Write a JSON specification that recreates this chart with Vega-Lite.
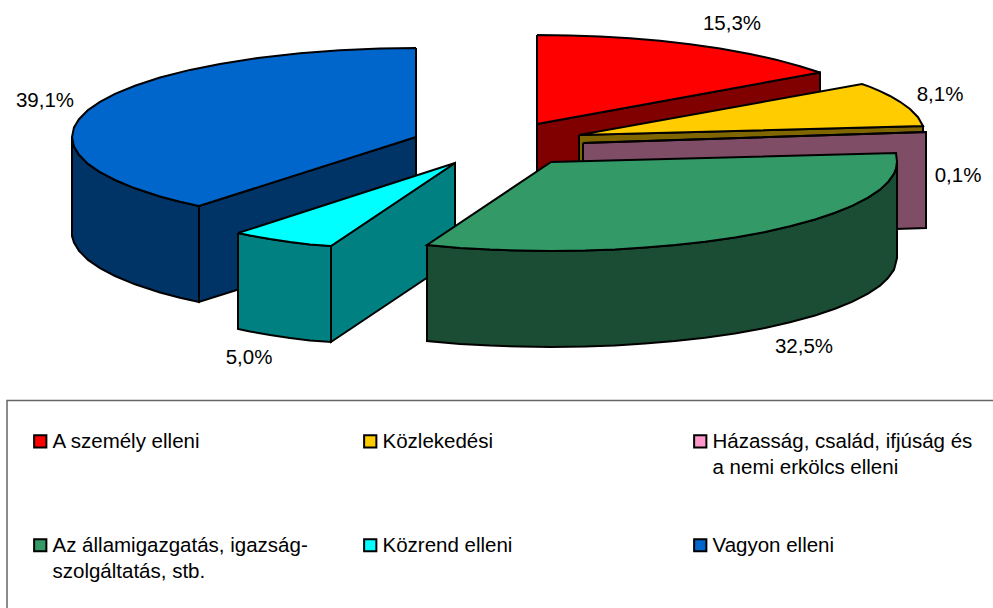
{"$schema":"https://vega.github.io/schema/vega-lite/v6.json","autosize":{"type":"none"},"width":993,"height":608,"padding":0,"background":"white","config":{"view":{"stroke":null}},
"datasets":{
"pieces":[
{"p":"red_side","f":"A személy elleni, oldal"},{"p":"red_top","f":"A személy elleni"},
{"p":"blue_cut","f":"Vagyon elleni, oldal"},{"p":"blue_outer","f":"Vagyon elleni, oldal"},{"p":"blue_top","f":"Vagyon elleni"},
{"p":"yellow_side","f":"Közlekedési, oldal"},{"p":"yellow_top","f":"Közlekedési"},
{"p":"pink_side","f":"Házasság, oldal"},{"p":"pink_top","f":"Házasság, család, ifjúság és a nemi erkölcs elleni"},
{"p":"cyan_right","f":"Közrend elleni, oldal"},{"p":"cyan_left","f":"Közrend elleni, oldal"},{"p":"cyan_top","f":"Közrend elleni"},
{"p":"green_side","f":"Az államigazgatás, oldal"},{"p":"green_top","f":"Az államigazgatás, igazságszolgáltatás, stb."}
],
"outline":[
{"p":"red_side","i":0,"x":537,"y":124},{"p":"red_side","i":1,"x":820,"y":72.5},{"p":"red_side","i":2,"x":820,"y":168},{"p":"red_side","i":3,"x":537,"y":220},{"p":"red_side","i":4,"x":537,"y":124},
{"p":"red_top","i":0,"x":537,"y":35},{"p":"red_top","i":1,"x":570,"y":35.4},{"p":"red_top","i":2,"x":600,"y":36.5},{"p":"red_top","i":3,"x":630,"y":38.3},{"p":"red_top","i":4,"x":660,"y":40.8},{"p":"red_top","i":5,"x":690,"y":44.2},{"p":"red_top","i":6,"x":720,"y":48.4},{"p":"red_top","i":7,"x":750,"y":53.9},{"p":"red_top","i":8,"x":775,"y":59.4},{"p":"red_top","i":9,"x":800,"y":66.2},{"p":"red_top","i":10,"x":820,"y":72.5},{"p":"red_top","i":11,"x":537,"y":124},{"p":"red_top","i":12,"x":537,"y":35},
{"p":"blue_cut","i":0,"x":199,"y":206},{"p":"blue_cut","i":1,"x":416,"y":137},{"p":"blue_cut","i":2,"x":416,"y":233},{"p":"blue_cut","i":3,"x":199,"y":302},{"p":"blue_cut","i":4,"x":199,"y":206},
{"p":"blue_outer","i":0,"x":72,"y":137},{"p":"blue_outer","i":1,"x":74,"y":146.6},{"p":"blue_outer","i":2,"x":79,"y":154.8},{"p":"blue_outer","i":3,"x":88,"y":163.9},{"p":"blue_outer","i":4,"x":100,"y":172.1},{"p":"blue_outer","i":5,"x":115,"y":180},{"p":"blue_outer","i":6,"x":135,"y":188.3},{"p":"blue_outer","i":7,"x":160,"y":196.5},{"p":"blue_outer","i":8,"x":180,"y":201.8},{"p":"blue_outer","i":9,"x":199,"y":206},{"p":"blue_outer","i":10,"x":199,"y":302},{"p":"blue_outer","i":11,"x":180,"y":297.8},{"p":"blue_outer","i":12,"x":160,"y":292.5},{"p":"blue_outer","i":13,"x":135,"y":284.3},{"p":"blue_outer","i":14,"x":115,"y":276},{"p":"blue_outer","i":15,"x":100,"y":268.1},{"p":"blue_outer","i":16,"x":88,"y":259.9},{"p":"blue_outer","i":17,"x":79,"y":250.8},{"p":"blue_outer","i":18,"x":74,"y":242.6},{"p":"blue_outer","i":19,"x":72,"y":236},{"p":"blue_outer","i":20,"x":72,"y":137},
{"p":"blue_top","i":0,"x":416,"y":48},{"p":"blue_top","i":1,"x":380,"y":48.5},{"p":"blue_top","i":2,"x":340,"y":50.2},{"p":"blue_top","i":3,"x":300,"y":53.2},{"p":"blue_top","i":4,"x":260,"y":57.7},{"p":"blue_top","i":5,"x":220,"y":63.9},{"p":"blue_top","i":6,"x":190,"y":69.9},{"p":"blue_top","i":7,"x":160,"y":77.5},{"p":"blue_top","i":8,"x":135,"y":85.7},{"p":"blue_top","i":9,"x":115,"y":93.9},{"p":"blue_top","i":10,"x":100,"y":101.9},{"p":"blue_top","i":11,"x":88,"y":110.1},{"p":"blue_top","i":12,"x":79,"y":119.2},{"p":"blue_top","i":13,"x":74,"y":127.4},{"p":"blue_top","i":14,"x":72,"y":137},{"p":"blue_top","i":15,"x":74,"y":146.6},{"p":"blue_top","i":16,"x":79,"y":154.8},{"p":"blue_top","i":17,"x":88,"y":163.9},{"p":"blue_top","i":18,"x":100,"y":172.1},{"p":"blue_top","i":19,"x":115,"y":180},{"p":"blue_top","i":20,"x":135,"y":188.3},{"p":"blue_top","i":21,"x":160,"y":196.5},{"p":"blue_top","i":22,"x":180,"y":201.8},{"p":"blue_top","i":23,"x":199,"y":206},{"p":"blue_top","i":24,"x":416,"y":137},{"p":"blue_top","i":25,"x":416,"y":48},
{"p":"yellow_side","i":0,"x":579,"y":135},{"p":"yellow_side","i":1,"x":923,"y":126},{"p":"yellow_side","i":2,"x":923,"y":222},{"p":"yellow_side","i":3,"x":579,"y":231},{"p":"yellow_side","i":4,"x":579,"y":135},
{"p":"yellow_top","i":0,"x":579,"y":135},{"p":"yellow_top","i":1,"x":862,"y":84},{"p":"yellow_top","i":2,"x":870,"y":86.9},{"p":"yellow_top","i":3,"x":880,"y":91.1},{"p":"yellow_top","i":4,"x":890,"y":96},{"p":"yellow_top","i":5,"x":900,"y":101.8},{"p":"yellow_top","i":6,"x":910,"y":109},{"p":"yellow_top","i":7,"x":918,"y":117.2},{"p":"yellow_top","i":8,"x":923,"y":126},{"p":"yellow_top","i":9,"x":579,"y":135},
{"p":"pink_side","i":0,"x":583,"y":143},{"p":"pink_side","i":1,"x":926,"y":132},{"p":"pink_side","i":2,"x":926,"y":228},{"p":"pink_side","i":3,"x":583,"y":239},{"p":"pink_side","i":4,"x":583,"y":143},
{"p":"pink_top","i":0,"x":583,"y":143},{"p":"pink_top","i":1,"x":926,"y":132},{"p":"pink_top","i":2,"x":583,"y":143},
{"p":"cyan_right","i":0,"x":331,"y":246},{"p":"cyan_right","i":1,"x":455,"y":163},{"p":"cyan_right","i":2,"x":455,"y":259},{"p":"cyan_right","i":3,"x":331,"y":342},{"p":"cyan_right","i":4,"x":331,"y":246},
{"p":"cyan_left","i":0,"x":238,"y":233},{"p":"cyan_left","i":1,"x":250,"y":235.5},{"p":"cyan_left","i":2,"x":270,"y":239},{"p":"cyan_left","i":3,"x":290,"y":242},{"p":"cyan_left","i":4,"x":310,"y":244.5},{"p":"cyan_left","i":5,"x":331,"y":246},{"p":"cyan_left","i":6,"x":331,"y":342},{"p":"cyan_left","i":7,"x":310,"y":340.5},{"p":"cyan_left","i":8,"x":290,"y":338},{"p":"cyan_left","i":9,"x":270,"y":335},{"p":"cyan_left","i":10,"x":250,"y":331.5},{"p":"cyan_left","i":11,"x":238,"y":329},{"p":"cyan_left","i":12,"x":238,"y":233},
{"p":"cyan_top","i":0,"x":238,"y":233},{"p":"cyan_top","i":1,"x":455,"y":163},{"p":"cyan_top","i":2,"x":331,"y":246},{"p":"cyan_top","i":3,"x":310,"y":244.5},{"p":"cyan_top","i":4,"x":290,"y":242},{"p":"cyan_top","i":5,"x":270,"y":239},{"p":"cyan_top","i":6,"x":250,"y":235.5},{"p":"cyan_top","i":7,"x":238,"y":233},
{"p":"green_side","i":0,"x":897,"y":162},{"p":"green_side","i":1,"x":896,"y":168.7},{"p":"green_side","i":2,"x":894,"y":173.7},{"p":"green_side","i":3,"x":888,"y":182},{"p":"green_side","i":4,"x":880,"y":189.6},{"p":"green_side","i":5,"x":868,"y":197.6},{"p":"green_side","i":6,"x":852,"y":205.9},{"p":"green_side","i":7,"x":835,"y":212.8},{"p":"green_side","i":8,"x":815,"y":219.5},{"p":"green_side","i":9,"x":790,"y":226.3},{"p":"green_side","i":10,"x":765,"y":232},{"p":"green_side","i":11,"x":735,"y":237.4},{"p":"green_side","i":12,"x":705,"y":241.7},{"p":"green_side","i":13,"x":675,"y":245.1},{"p":"green_side","i":14,"x":645,"y":247.6},{"p":"green_side","i":15,"x":615,"y":249.5},{"p":"green_side","i":16,"x":585,"y":250.6},{"p":"green_side","i":17,"x":551,"y":251},{"p":"green_side","i":18,"x":520,"y":250.6},{"p":"green_side","i":19,"x":490,"y":249.6},{"p":"green_side","i":20,"x":460,"y":247.9},{"p":"green_side","i":21,"x":427,"y":245},{"p":"green_side","i":22,"x":427,"y":341},{"p":"green_side","i":23,"x":460,"y":343.9},{"p":"green_side","i":24,"x":490,"y":345.6},{"p":"green_side","i":25,"x":520,"y":346.6},{"p":"green_side","i":26,"x":551,"y":347},{"p":"green_side","i":27,"x":585,"y":346.6},{"p":"green_side","i":28,"x":615,"y":345.5},{"p":"green_side","i":29,"x":645,"y":343.6},{"p":"green_side","i":30,"x":675,"y":341.1},{"p":"green_side","i":31,"x":705,"y":337.7},{"p":"green_side","i":32,"x":735,"y":333.4},{"p":"green_side","i":33,"x":765,"y":328},{"p":"green_side","i":34,"x":790,"y":322.3},{"p":"green_side","i":35,"x":815,"y":315.5},{"p":"green_side","i":36,"x":835,"y":308.8},{"p":"green_side","i":37,"x":852,"y":301.9},{"p":"green_side","i":38,"x":868,"y":293.6},{"p":"green_side","i":39,"x":880,"y":285.6},{"p":"green_side","i":40,"x":888,"y":278},{"p":"green_side","i":41,"x":894,"y":269.7},{"p":"green_side","i":42,"x":897,"y":258},{"p":"green_side","i":43,"x":897,"y":162},
{"p":"green_top","i":0,"x":551,"y":162},{"p":"green_top","i":1,"x":896,"y":153},{"p":"green_top","i":2,"x":897,"y":162},{"p":"green_top","i":3,"x":896,"y":168.7},{"p":"green_top","i":4,"x":894,"y":173.7},{"p":"green_top","i":5,"x":888,"y":182},{"p":"green_top","i":6,"x":880,"y":189.6},{"p":"green_top","i":7,"x":868,"y":197.6},{"p":"green_top","i":8,"x":852,"y":205.9},{"p":"green_top","i":9,"x":835,"y":212.8},{"p":"green_top","i":10,"x":815,"y":219.5},{"p":"green_top","i":11,"x":790,"y":226.3},{"p":"green_top","i":12,"x":765,"y":232},{"p":"green_top","i":13,"x":735,"y":237.4},{"p":"green_top","i":14,"x":705,"y":241.7},{"p":"green_top","i":15,"x":675,"y":245.1},{"p":"green_top","i":16,"x":645,"y":247.6},{"p":"green_top","i":17,"x":615,"y":249.5},{"p":"green_top","i":18,"x":585,"y":250.6},{"p":"green_top","i":19,"x":551,"y":251},{"p":"green_top","i":20,"x":520,"y":250.6},{"p":"green_top","i":21,"x":490,"y":249.6},{"p":"green_top","i":22,"x":460,"y":247.9},{"p":"green_top","i":23,"x":427,"y":245},{"p":"green_top","i":24,"x":551,"y":162}
]},
"layer":[
{"data":{"name":"outline"},"transform":[{"lookup":"p","from":{"data":{"name":"pieces"},"key":"p","fields":["f"]}}],
"mark":{"type":"line","stroke":"#000","strokeWidth":2,"strokeJoin":"miter"},
"encoding":{
"x":{"field":"x","type":"quantitative","scale":{"domain":[0,993],"nice":false,"zero":false},"axis":null},
"y":{"field":"y","type":"quantitative","scale":{"domain":[608,0],"nice":false,"zero":false},"axis":null},
"order":{"field":"i","type":"quantitative"},
"detail":{"field":"p"},
"fill":{"field":"f","type":"nominal","scale":{
"domain":["A személy elleni","Közlekedési","Házasság, család, ifjúság és a nemi erkölcs elleni","Az államigazgatás, igazságszolgáltatás, stb.","Közrend elleni","Vagyon elleni","A személy elleni, oldal","Közlekedési, oldal","Házasság, oldal","Az államigazgatás, oldal","Közrend elleni, oldal","Vagyon elleni, oldal"],
"range":["#FF0000","#FFCC00","#FF99CC","#339966","#00FFFF","#0066CC","#800000","#806600","#804D66","#1A4D33","#008080","#003366"]},
"legend":{"title":null,"orient":"none","legendX":30,"legendY":431,"columns":3,"direction":"horizontal","gridAlign":"all","columnPadding":47,"rowPadding":56,"symbolType":"square","symbolSize":150,"symbolStrokeColor":"#000","symbolStrokeWidth":2,"symbolOpacity":1,"labelFont":"Liberation Sans","labelFontSize":20.5,"labelColor":"#000","labelLimit":400,"labelOffset":2,"labelBaseline":"top","encode":{"labels":{"update":{"lineHeight":{"value":26},"dy":{"value":-9}}}},"values":["A személy elleni","Közlekedési","Házasság, család, ifjúság és a nemi erkölcs elleni","Az államigazgatás, igazságszolgáltatás, stb.","Közrend elleni","Vagyon elleni"],
"labelExpr":"datum.label == 'Házasság, család, ifjúság és a nemi erkölcs elleni' ? ['Házasság, család, ifjúság és','a nemi erkölcs elleni'] : datum.label == 'Az államigazgatás, igazságszolgáltatás, stb.' ? ['Az államigazgatás, igazság-','szolgáltatás, stb.'] : [datum.label,' ']"}}
}},
{"data":{"values":[{"t":"15,3%","x":732,"y":24},{"t":"8,1%","x":940,"y":95},{"t":"0,1%","x":958,"y":176},{"t":"32,5%","x":804,"y":347},{"t":"5,0%","x":249,"y":358},{"t":"39,1%","x":45,"y":101}]},
"mark":{"type":"text","font":"Liberation Sans","fontSize":20.5,"color":"#000"},
"encoding":{"x":{"field":"x","type":"quantitative"},"y":{"field":"y","type":"quantitative"},"text":{"field":"t"}}},
{"data":{"values":[{"i":0,"x":7,"y":608},{"i":1,"x":7,"y":400.5},{"i":2,"x":993,"y":400.5}]},
"mark":{"type":"line","stroke":"#666","strokeWidth":1.5},
"encoding":{"x":{"field":"x","type":"quantitative"},"y":{"field":"y","type":"quantitative"},"order":{"field":"i","type":"quantitative"}}}
]}
